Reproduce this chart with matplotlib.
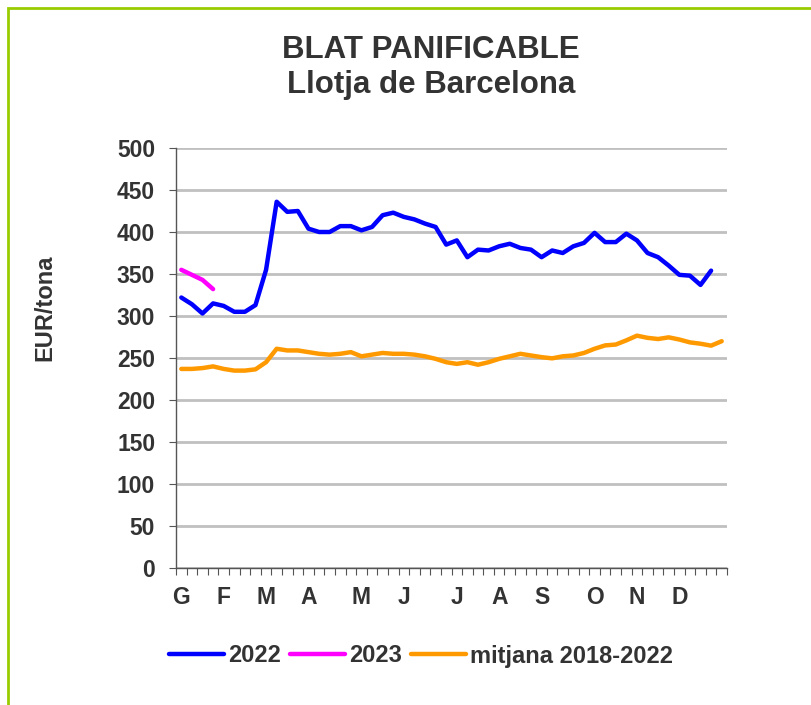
import numpy as np
import matplotlib
matplotlib.use('Agg')
import matplotlib.pyplot as plt

plt.rcParams['font.family'] = ['Liberation Sans', 'DejaVu Sans']

# setmanes (0 = primera setmana de gener)
mesos = ['G', 'F', 'M', 'A', 'M', 'J', 'J', 'A', 'S', 'O', 'N', 'D']
pos_mesos = [0, 4, 8, 12, 17, 21, 26, 30, 34, 39, 43, 47]
n_setmanes = 52

preu_2022 = [322, 314, 303, 315, 312, 305, 305, 313, 355, 436,
             424, 425, 404, 400, 400, 407, 407, 402, 406, 420,
             423, 418, 415, 410, 406, 385, 390, 370, 379, 378,
             383, 386, 381, 379, 370, 378, 375, 383, 387, 399,
             388, 388, 398, 390, 375, 370, 360, 349, 348, 337,
             354]
preu_2023 = [355, 349, 343, 332]
mitjana = [237, 237, 238, 240, 237, 235, 235, 236.5, 245, 261,
           259, 259, 257, 255, 254, 255, 257, 252, 254, 256,
           255, 255, 254, 252, 249, 245, 243, 245, 242, 245,
           249, 252, 255, 253, 251, 249.6, 252, 253, 256, 261,
           265, 266, 271, 276.6, 274, 272.6, 274.6, 272, 268.6, 267,
           264.7, 270]

gris = '#333333'

fig = plt.figure(figsize=(8.12, 7.05), dpi=100)
ax = fig.add_axes([176/812, 1-568/705, (727-176)/812, (568-148)/705])

ax.plot(range(len(preu_2022)), preu_2022, color='#0000ff', lw=3.2,
        solid_joinstyle='round', solid_capstyle='round', label='2022', zorder=4)
ax.plot(range(len(preu_2023)), preu_2023, color='#ff00ff', lw=3.2,
        solid_joinstyle='round', solid_capstyle='round', label='2023', zorder=5)
ax.plot(range(len(mitjana)), mitjana, color='#ff9900', lw=3.2,
        solid_joinstyle='round', solid_capstyle='round',
        label='mitjana 2018-2022', zorder=3)

ax.set_ylim(0, 500)
ax.set_xlim(-0.5, n_setmanes - 0.5)
ax.set_yticks(np.arange(0, 501, 50))
ax.yaxis.grid(True, color='#c0c0c0', lw=2)
ax.set_axisbelow(True)

ax.set_xticks(np.arange(-0.5, n_setmanes, 1))
ax.set_xticklabels([])
ax.set_xticks(pos_mesos, minor=True)
ax.set_xticklabels(mesos, minor=True)
ax.tick_params(axis='x', which='major', length=5, color='#555555', direction='out')
ax.tick_params(axis='x', which='minor', length=0, pad=13, labelsize=16.5,
               labelcolor=gris)
ax.tick_params(axis='y', length=5, color='#555555', pad=10, labelsize=16.5,
               labelcolor=gris)
for lab in ax.get_xticklabels(minor=True) + ax.get_yticklabels():
    lab.set_fontweight('bold')

for s in ['top', 'right']:
    ax.spines[s].set_visible(False)
for s in ['left', 'bottom']:
    ax.spines[s].set_color('#555555')
    ax.spines[s].set_linewidth(1)

fig.text(45/812, 1-308/705, 'EUR/tona', rotation=90, ha='center', va='center',
         fontsize=17, fontweight='bold', color=gris)

fig.text(431/812, 1-50/705, 'BLAT PANIFICABLE', ha='center', va='center',
         fontsize=22.5, fontweight='bold', color=gris)
fig.text(431/812, 1-85/705, 'Llotja de Barcelona', ha='center', va='center',
         fontsize=22.5, fontweight='bold', color=gris)

leg = fig.legend(loc='center', bbox_to_anchor=(421/812, 1-656/705), ncol=3,
                 frameon=False, handlelength=2.35, handletextpad=0.18,
                 columnspacing=0.35, prop={'size': 17, 'weight': 'bold'})
for t in leg.get_texts():
    t.set_color(gris)

marc = plt.Rectangle((8/812, -0.1), 1.2, 1.1 - 8/705, transform=fig.transFigure,
                     fill=False, edgecolor='#99cc00', lw=2)
fig.patches.append(marc)

fig.savefig('out.png', dpi=100)
